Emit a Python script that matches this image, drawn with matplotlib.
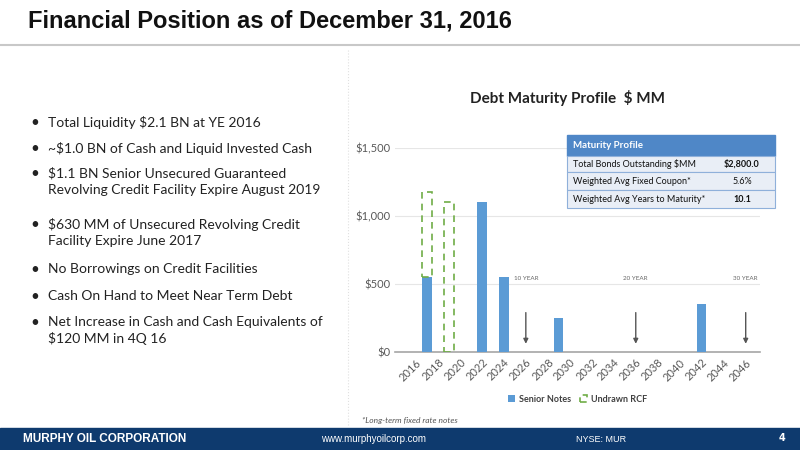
import matplotlib
matplotlib.use("Agg")
import matplotlib.pyplot as plt
from matplotlib.patches import Rectangle
from matplotlib.lines import Line2D

years = list(range(2016, 2047))
senior_years = [2017, 2022, 2024, 2029, 2042]
senior_vals = [550, 1100, 550, 250, 350]
rcf_years = [2017, 2019]
rcf_bottom = [550, 0]
rcf_vals = [630, 1100]
arrow_years = [2026, 2036, 2046]
arrow_labels = ["10 YEAR", "20 YEAR", "30 YEAR"]
yticks = [0, 500, 1000, 1500]
ytick_labels = ["$0", "$500", "$1,000", "$1,500"]
table_rows = [("Total Bonds Outstanding $MM", "$2,800.0"),
              ("Weighted Avg Fixed Coupon*", "5.6%"),
              ("Weighted Avg Years to Maturity*", "10.1")]
bullets = ["Total Liquidity $2.1 BN at YE 2016",
           "~$1.0 BN of Cash and Liquid Invested Cash",
           "$1.1 BN Senior Unsecured Guaranteed\nRevolving Credit Facility Expire August 2019",
           "$630 MM of Unsecured Revolving Credit\nFacility Expire June 2017",
           "No Borrowings on Credit Facilities",
           "Cash On Hand to Meet Near Term Debt",
           "Net Increase in Cash and Cash Equivalents of\n$120 MM in 4Q 16"]
bullet_y = [123, 149, 174, 225, 270, 297, 323]

W, H = 800, 450
fig = plt.figure(figsize=(8, 4.5), dpi=100)
def fx(x): return x / W
def fy(y): return 1 - y / H

# Title
fig.text(fx(28), fy(21), "Financial Position as of December 31, 2016", fontsize=17,
         fontweight="bold", family="Liberation Sans", va="center", ha="left", color="#111111")
fig.add_artist(Line2D([0, 1], [fy(45), fy(45)], color="#C8C8C8", lw=1.5))
fig.add_artist(Line2D([fx(348), fx(348)], [fy(50), fy(425)], color="#E0E0E0", lw=0.8, ls=":"))

# Footer
fig.add_artist(Rectangle((0, 0), 1, fy(428), color="#0E3A6E", transform=fig.transFigure))
fig.text(fx(23), fy(439), "MURPHY OIL CORPORATION", color="white", fontsize=8.5, fontweight="bold",
         family="Liberation Sans", va="center")
fig.text(fx(374), fy(439), "www.murphyoilcorp.com", color="white", fontsize=7, va="center", ha="center",
         family="Liberation Sans")
fig.text(fx(601), fy(439), "NYSE: MUR", color="white", fontsize=6.5, va="center", ha="center",
         family="Liberation Sans")
fig.text(fx(782), fy(438), "4", color="white", fontsize=7, va="center", ha="center", fontweight="bold")
fig.text(fx(362), fy(421), "*Long-term fixed rate notes", fontsize=6, style="italic", color="#555555",
         family="Lato", va="center")

# Bullets
for t, y in zip(bullets, bullet_y):
    fig.text(fx(30), fy(y - 7), "•", fontsize=11, va="top", ha="left", family="Lato", color="#222222")
    fig.text(fx(48), fy(y - 7), t, fontsize=10, va="top", ha="left", family="Lato", color="#222222",
             linespacing=1.4)

# Chart
fig.text(fx(568), fy(98), "Debt Maturity Profile  $ MM", fontsize=11, fontweight="bold",
         family="Lato", ha="center", va="center", color="#222222")
ax = fig.add_axes([fx(395), fy(352), fx(365), 204 / H])
ax.bar(senior_years, senior_vals, width=0.85, color="#5B9BD5", zorder=3, label="Senior Notes")
ax.bar(rcf_years, rcf_vals, bottom=rcf_bottom, width=0.85, facecolor="none", edgecolor="#70AD47",
       ls=(0, (4, 3)), lw=1.2, zorder=3, label="Undrawn RCF")
ax.set_xlim(2014.1, 2047.3)
ax.set_ylim(0, 1500)
ax.set_yticks(yticks)
ax.set_yticklabels(ytick_labels)
ax.set_xticks(years[::2])
ax.set_xticklabels([str(y) for y in years[::2]], rotation=45, ha="right", rotation_mode="anchor")
ax.tick_params(length=0, labelsize=8, colors="#595959")
for lab in ax.get_xticklabels() + ax.get_yticklabels():
    lab.set_family("Lato")
ax.grid(axis="y", color="#E6E6E6", lw=0.8, zorder=0)
for s in ["top", "right", "left"]:
    ax.spines[s].set_visible(False)
ax.spines["bottom"].set_color("#A6A6A6")
ax.spines["bottom"].set_linewidth(1.2)
for xa, lab in zip(arrow_years, arrow_labels):
    ax.annotate("", xy=(xa, 40), xytext=(xa, 310),
                arrowprops=dict(arrowstyle="-|>", color="#555555", lw=1, mutation_scale=7))
    ax.text(xa, 540, lab, fontsize=4.5, color="#666666", ha="center", va="center", family="Lato")
leg = ax.legend(loc="upper center", bbox_to_anchor=(0.5, -0.17), ncol=2, frameon=False, fontsize=6.5,
                handlelength=0.8, handleheight=0.8, columnspacing=1.0, handletextpad=0.4)
for t in leg.get_texts():
    t.set_fontweight("bold"); t.set_color("#404040"); t.set_family("Lato")

# Table
tx0, tx1 = 567, 775
rows_y = [135, 156, 172, 190, 208]
fig.add_artist(Rectangle((fx(tx0), fy(rows_y[1])), fx(tx1 - tx0), (rows_y[1] - rows_y[0]) / H,
                         facecolor="#4F87C7", edgecolor="#4F87C7", transform=fig.transFigure, zorder=5))
fig.text(fx(tx0 + 6), fy((rows_y[0] + rows_y[1]) / 2), "Maturity Profile", color="white", fontsize=7,
         fontweight="bold", family="Lato", va="center", zorder=6)
for i, (k, v) in enumerate(table_rows):
    y0, y1 = rows_y[i + 1], rows_y[i + 2]
    fig.add_artist(Rectangle((fx(tx0), fy(y1)), fx(tx1 - tx0), (y1 - y0) / H, facecolor="#E9EEF6",
                             edgecolor="#8FB0DA", lw=0.8, transform=fig.transFigure, zorder=5))
    fig.text(fx(tx0 + 6), fy((y0 + y1) / 2), k, fontsize=6.5, family="Lato", va="center", zorder=6,
             color="#111111")
    fig.text(fx(742), fy((y0 + y1) / 2), v, fontsize=6.5, family="Lato", va="center", ha="center",
             zorder=6, color="#111111", fontweight="bold" if i != 1 else "normal")

fig.savefig("out.png", dpi=100)
